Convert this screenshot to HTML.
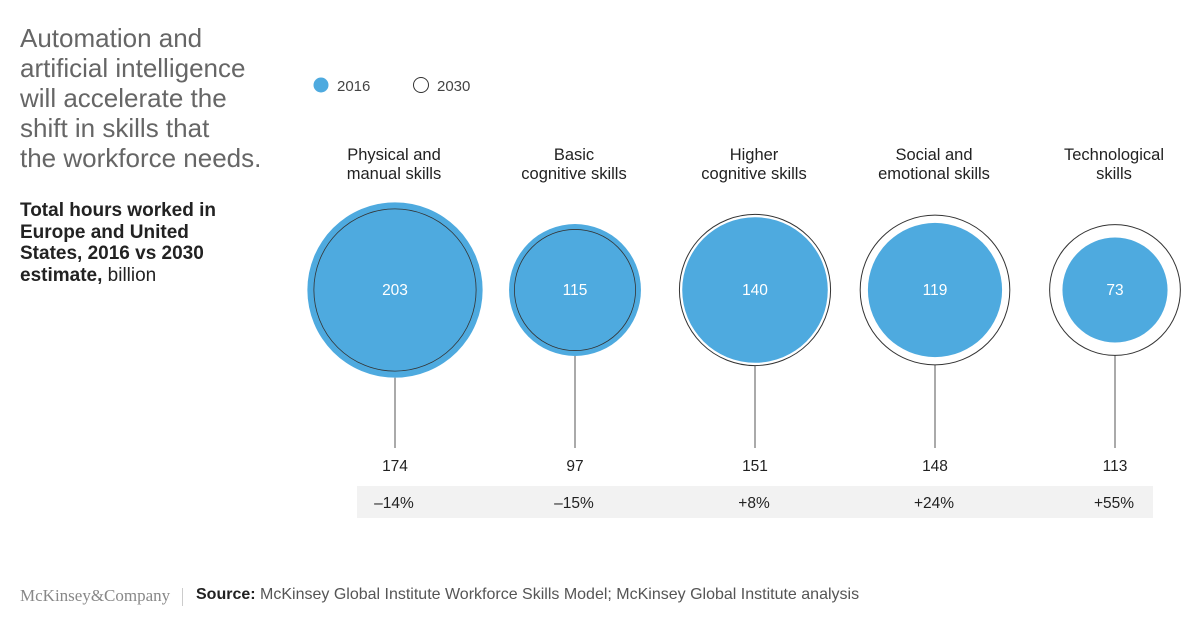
<!DOCTYPE html>
<html><head><meta charset="utf-8"><style>
body{margin:0;width:1200px;height:627px;background:#fff;font-family:"Liberation Sans",sans-serif;overflow:hidden;position:relative}
.t{position:absolute}
</style></head><body>
<div class="t" style="left:20px;top:23px;font-size:26px;line-height:30px;color:#666">Automation and<br>artificial intelligence<br>will accelerate the<br>shift in skills that<br>the workforce needs.</div>
<div class="t" style="left:20px;top:200px;font-size:19px;line-height:21.5px;color:#222"><b>Total hours worked in<br>Europe and United<br>States, 2016 vs 2030<br>estimate,</b> billion</div>
<svg width="1200" height="627" style="position:absolute;left:0;top:0" id="chart"></svg>
<div class="t" style="left:20px;top:586px;font-family:'Liberation Serif',serif;font-size:17px;color:#888">McKinsey&amp;Company</div>
<div class="t" style="left:182px;top:588px;width:1px;height:18px;background:#ccc"></div>
<div class="t" style="left:196px;top:586px;font-size:16px;color:#555"><b style="color:#222">Source:</b> McKinsey Global Institute Workforce Skills Model; McKinsey Global Institute analysis</div>
<script>
const categories=[["Physical and","manual skills"],["Basic","cognitive skills"],["Higher","cognitive skills"],["Social and","emotional skills"],["Technological","skills"]];
const values2016=[203,115,140,119,73];
const values2030=[174,97,151,148,113];
const changeLabels=["–14%","–15%","+8%","+24%","+55%"];
const NS="http://www.w3.org/2000/svg";
const svg=document.getElementById('chart');
function mk(tag,a,txt){const e=document.createElementNS(NS,tag);for(const k in a)e.setAttribute(k,a[k]);if(txt!=null)e.textContent=txt;svg.appendChild(e);return e;}
const xPos=i=>395+i*180;
const rad=v=>6.15*Math.sqrt(v);
const cy=290;
let e=mk('circle',{cx:321,cy:85,r:7.5,fill:'#4eaadf'});


e=mk('text',{x:337,y:91,'font-size':15,fill:'#444'},'2016');


e=mk('circle',{cx:421,cy:85,r:7.5,fill:'#fff',stroke:'#333','stroke-width':1});


e=mk('text',{x:437,y:91,'font-size':15,fill:'#444'},'2030');


e=mk('rect',{x:357,y:486,width:796,height:32,fill:'#f2f2f2'});


categories.forEach((c,i)=>{
  const x=xPos(i),r1=rad(values2016[i]),r2=rad(values2030[i]);
  c.forEach((ln,j)=>{
    const t=mk('text',{x:x-1,y:160+j*19,'font-size':16.5,fill:'#222','text-anchor':'middle'},ln);
    
    
  });
  const l=mk('line',{x1:x,x2:x,y1:cy+Math.max(r1,r2),y2:448,stroke:'#555','stroke-width':1});
  
  
  if(r2>r1){const o=mk('circle',{cx:x,cy:cy,r:r2,fill:'#fff',stroke:'#333','stroke-width':1});
    
    }
  const b=mk('circle',{cx:x,cy:cy,r:r1,fill:'#4eaadf'});
  
  
  if(r2<=r1){const o=mk('circle',{cx:x,cy:cy,r:r2,fill:'none',stroke:'#333','stroke-width':0.8});
    
    }
  const v=mk('text',{x:x,y:cy+5,'font-size':15.5,fill:'#fff','text-anchor':'middle'},values2016[i]);
  
  
  const w=mk('text',{x:x,y:471,'font-size':15.5,fill:'#222','text-anchor':'middle'},values2030[i]);
  
  
  const p=mk('text',{x:x-1,y:508,'font-size':15.5,fill:'#222','text-anchor':'middle'},changeLabels[i]);
  
  
});
</script>
</body></html>
